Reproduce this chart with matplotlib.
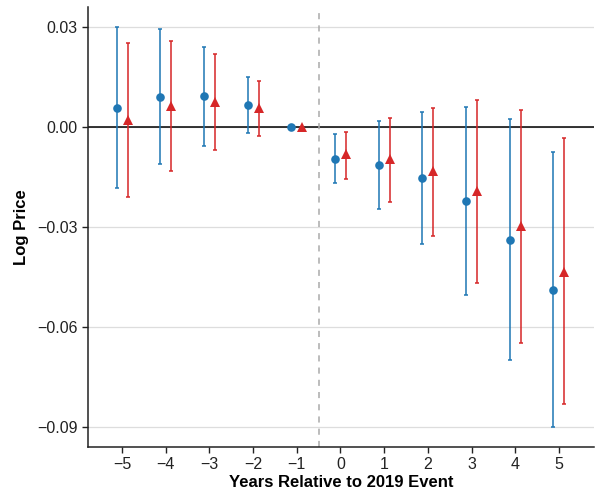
import numpy as np
import matplotlib
matplotlib.use("Agg")
import matplotlib.pyplot as plt

plt.rcParams['font.family'] = ['Liberation Sans', 'DejaVu Sans']

years = [-5, -4, -3, -2, -1, 0, 1, 2, 3, 4, 5]

# first specification (circles)
est_a = [0.0058, 0.0090, 0.0093, 0.0065, 0.0, -0.0095, -0.0113, -0.0154, -0.0221, -0.0338, -0.0488]
lo_a = [-0.0182, -0.0112, -0.0056, -0.0019, 0.0, -0.0168, -0.0245, -0.0352, -0.0504, -0.0698, -0.0899]
hi_a = [0.0301, 0.0293, 0.0241, 0.0149, 0.0, -0.0022, 0.0018, 0.0045, 0.0061, 0.0023, -0.0075]

# second specification (triangles)
est_b = [0.0022, 0.0063, 0.0076, 0.0058, 0.0, -0.0081, -0.0097, -0.0132, -0.0191, -0.0296, -0.0434]
lo_b = [-0.0210, -0.0132, -0.0070, -0.0026, 0.0, -0.0156, -0.0226, -0.0328, -0.0469, -0.0647, -0.0832]
hi_b = [0.0252, 0.0257, 0.0218, 0.0137, 0.0, -0.0016, 0.0026, 0.0058, 0.0082, 0.0051, -0.0034]

yticks = [0.03, 0.0, -0.03, -0.06, -0.09]
ytick_labels = ['0.03', '0.00', '\u22120.03', '\u22120.06', '\u22120.09']

blue = '#1f77b4'
red = '#d62728'
dodge = 0.125

fig = plt.figure(figsize=(5.95, 4.95), dpi=100)
ax = fig.add_axes([0.148, 0.097, 0.850, 0.889])

for i, x in enumerate(years):
    ax.axhline(0, color='black', lw=1.1, zorder=1) if i == 0 else None

ax.axvline(-0.5, color='#aaaaaa', lw=1.1, ls=(0, (4, 4)), zorder=1)

def draw(est, lo, hi, shift, color, marker, ms):
    xs = np.array(years) + shift
    est = np.array(est)
    yerr = [est - np.array(lo), np.array(hi) - est]
    ax.errorbar(xs, est, yerr=yerr, fmt='none', ecolor=color, elinewidth=1.3,
                capsize=1.2, capthick=1.3, alpha=0.85, zorder=3)
    ax.plot(xs, est, ls='none', marker=marker, color=color, ms=ms,
            markeredgewidth=0, zorder=4)

draw(est_a, lo_a, hi_a, -dodge, blue, 'o', 6.2)
draw(est_b, lo_b, hi_b, dodge, red, '^', 7.0)

ax.set_xlim(-5.78, 5.8)
ax.set_ylim(-0.096, 0.036)
ax.set_xticks(years)
ax.set_xticklabels([str(y).replace('-', '\u2212') for y in years])
ax.set_yticks(yticks)
ax.set_yticklabels(ytick_labels)
ax.yaxis.grid(True, color='#dddddd', lw=0.9)
ax.set_axisbelow(True)

for s in ['top', 'right']:
    ax.spines[s].set_visible(False)
for s in ['left', 'bottom']:
    ax.spines[s].set_linewidth(1.1)
    ax.spines[s].set_color('#222222')

ax.tick_params(axis='both', labelsize=11.5, length=4, width=1.0, color='#222222',
               labelcolor='#222222')
ax.set_xlabel('Years Relative to 2019 Event', fontsize=12, fontweight='bold', labelpad=2)
ax.set_ylabel('Log Price', fontsize=12, fontweight='bold', labelpad=6)

fig.savefig('out.png', dpi=100)
